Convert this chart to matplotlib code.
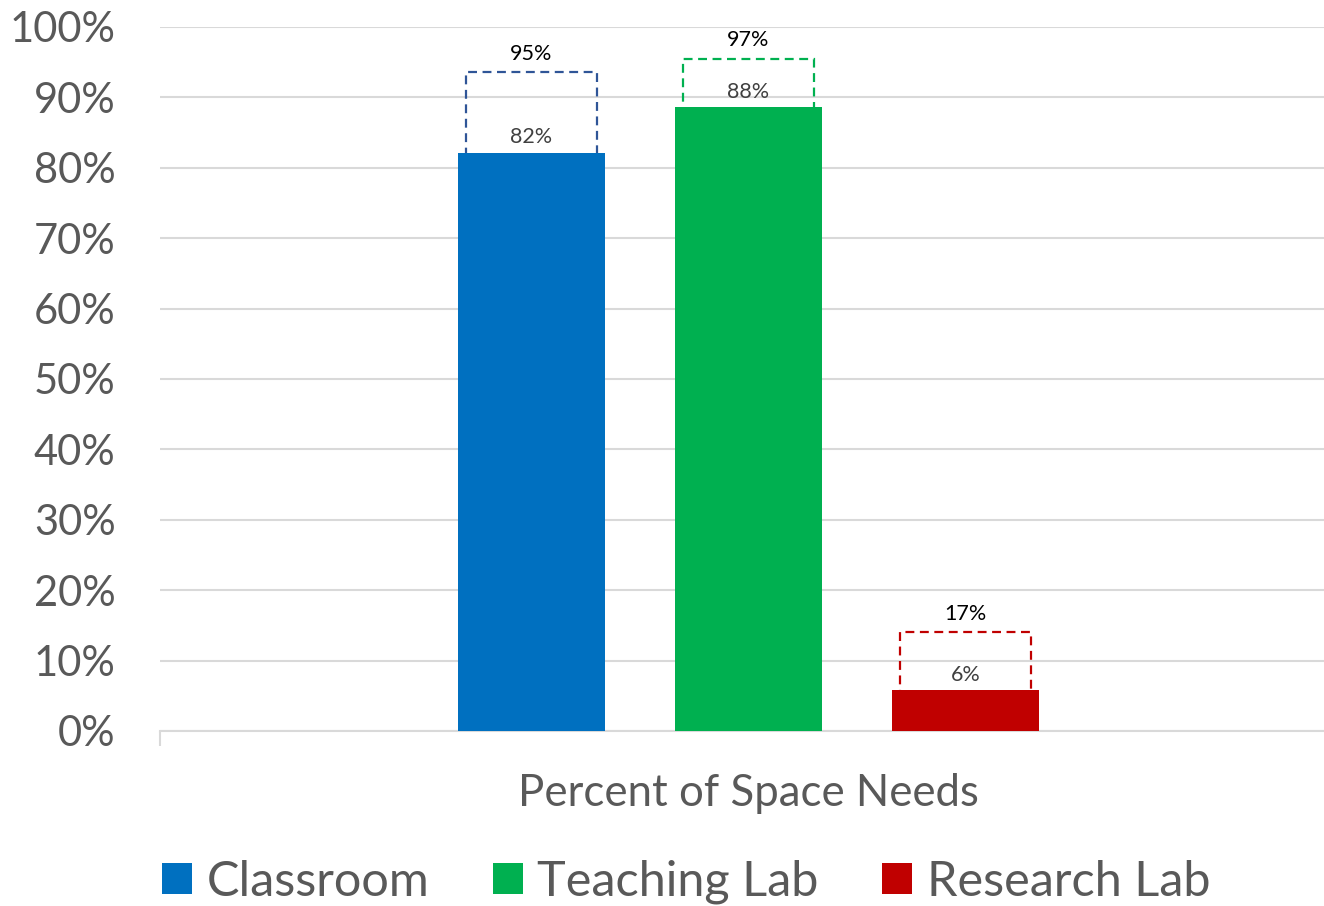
import matplotlib
matplotlib.use("Agg")
import matplotlib.pyplot as plt
from matplotlib.patches import Patch

plt.rcParams['font.family'] = ['Lato', 'DejaVu Sans']

categories = ['Classroom', 'Teaching Lab', 'Research Lab']
current_pct = [82.1, 88.6, 5.8]
current_labels = ['82%', '88%', '6%']
target_pct = [93.6, 95.5, 14.0]
target_labels = ['95%', '97%', '17%']
bar_colors = ['#0070c0', '#00b050', '#c00000']
box_colors = ['#2f5597', '#00b050', '#c00000']
yticks = [0, 10, 20, 30, 40, 50, 60, 70, 80, 90, 100]

fig = plt.figure(figsize=(13.24, 9.06), dpi=100)
ax = fig.add_axes([160 / 1324, 1 - 731 / 906, 1177 / 1324, 704 / 906])

pos = [-1, 0, 1]
half = 2.712

# dashed outlines of targets, drawn behind the bars
for x, t, c in zip(pos, target_pct, box_colors):
    ax.bar(x, t, width=0.6, fill=False, edgecolor=c, lw=1.6,
           linestyle=(0, (4, 2.5)), zorder=2)

bars = ax.bar(pos, current_pct, width=0.677, color=bar_colors, zorder=3)

for x, v, lab in zip(pos, current_pct, current_labels):
    ax.annotate(lab, (x, v), xytext=(0, 4), textcoords='offset points',
                ha='center', va='bottom', fontsize=15.5, color='#404040', zorder=4)
for x, t, lab in zip(pos, target_pct, target_labels):
    ax.annotate(lab, (x, t), xytext=(0, 6), textcoords='offset points',
                ha='center', va='bottom', fontsize=15.5, color='black', zorder=4)

ax.set_xlim(-half, half)
ax.set_ylim(0, 100)
ax.set_yticks(yticks)
ax.set_yticklabels([f'{v}%' for v in yticks])
ax.set_xticks([-half, half])
ax.set_xticklabels(['', ''])
ax.tick_params(axis='y', length=0, pad=32, labelsize=30, labelcolor='#595959')
ax.tick_params(axis='x', length=11, width=1.5, color='#d9d9d9')
ax.yaxis.grid(True, color='#d9d9d9', lw=1.5, zorder=0)
ax.set_axisbelow(True)
for s in ['top', 'right', 'left']:
    ax.spines[s].set_visible(False)
ax.spines['bottom'].set_color('#d9d9d9')
ax.spines['bottom'].set_linewidth(1.5)
ax.spines['bottom'].set_zorder(1)

fig.text(748 / 1324, 1 - 793 / 906, 'Percent of Space Needs', ha='center', va='center',
         fontsize=31.5, color='#595959')

handles = [Patch(facecolor=c, edgecolor='none') for c in bar_colors]
fig.legend(handles, categories, loc='center', bbox_to_anchor=(686 / 1324, 1 - 882 / 906),
           ncol=3, frameon=False, fontsize=35, labelcolor='#595959',
           handlelength=0.62, handleheight=0.62, handletextpad=0.3, columnspacing=1.3)

fig.savefig('out.png', dpi=100)
